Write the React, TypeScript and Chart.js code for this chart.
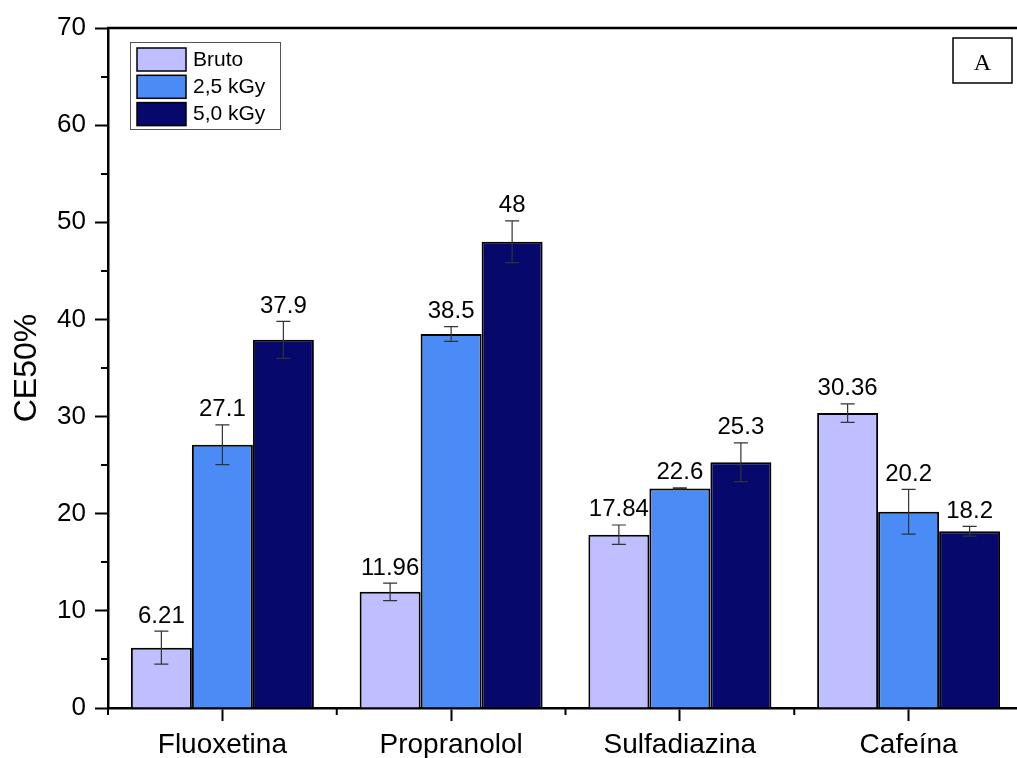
import { useEffect, useRef } from 'react';
import { Chart, registerables } from 'chart.js';

Chart.register(...registerables);

const categories = ['Fluoxetina', 'Propranolol', 'Sulfadiazina', 'Cafeína'];
const seriesNames = ['Bruto', '2,5 kGy', '5,0 kGy'];
const brutoValues = [6.21, 11.96, 17.84, 30.36];
const kGy25Values = [27.1, 38.5, 22.6, 20.2];
const kGy50Values = [37.9, 48, 25.3, 18.2];
const brutoErrors = [1.7, 0.9, 1.0, 0.95];
const kGy25Errors = [2.05, 0.75, 0.05, 2.3];
const kGy50Errors = [1.9, 2.15, 2.0, 0.5];
const yTicks = [0, 10, 20, 30, 40, 50, 60, 70];
const yMinorTicks = [5, 15, 25, 35, 45, 55, 65];
const panelLabel = 'A';

const seriesColors = ['#BFBFFF', '#4A8BF5', '#06086B'];

const FONT = 'Arial, "Liberation Sans", sans-serif';

const overlayPlugin = {
  id: 'overlay',
  afterDatasetsDraw(chart: any) {
    const { ctx, scales } = chart;
    const y = scales.y;
    const errs = [brutoErrors, kGy25Errors, kGy50Errors];
    ctx.save();
    chart.data.datasets.forEach((ds: any, di: number) => {
      const meta = chart.getDatasetMeta(di);
      meta.data.forEach((bar: any, i: number) => {
        const v = ds.data[i];
        const e = errs[di][i];
        const cx = bar.x;
        const yt = y.getPixelForValue(v + e);
        const yb = y.getPixelForValue(v - e);
        ctx.strokeStyle = '#333';
        ctx.lineWidth = 1.2;
        ctx.beginPath();
        ctx.moveTo(cx, yt);
        ctx.lineTo(cx, yb);
        ctx.moveTo(cx - 7, yt);
        ctx.lineTo(cx + 7, yt);
        ctx.moveTo(cx - 7, yb);
        ctx.lineTo(cx + 7, yb);
        ctx.stroke();
        ctx.fillStyle = '#000';
        ctx.font = '24px ' + FONT;
        ctx.textAlign = 'center';
        ctx.textBaseline = 'alphabetic';
        ctx.fillText(String(v), cx, yt - 8.5);
      });
    });
    ctx.restore();
  },
  afterDraw(chart: any) {
    const { ctx, chartArea, scales } = chart;
    const x = scales.x;
    const y = scales.y;
    ctx.save();
    ctx.strokeStyle = '#000';
    ctx.lineWidth = 2.5;
    ctx.beginPath();
    ctx.moveTo(chartArea.left - 1, chartArea.top);
    ctx.lineTo(chart.width, chartArea.top);
    ctx.stroke();
    ctx.lineWidth = 2;
    ctx.beginPath();
    yMinorTicks.forEach((t) => {
      const py = Math.round(y.getPixelForValue(t));
      ctx.moveTo(chartArea.left, py);
      ctx.lineTo(chartArea.left - 7, py);
    });
    for (let i = 0; i <= categories.length; i++) {
      const px = i === 0
        ? chartArea.left
        : i === categories.length
          ? chartArea.right
          : (x.getPixelForValue(i - 1) + x.getPixelForValue(i)) / 2;
      ctx.moveTo(px, chartArea.bottom);
      ctx.lineTo(px, chartArea.bottom + 7);
    }
    ctx.stroke();

    // legend
    const lx = 130, ly = 42, lw = 150, lh = 87;
    ctx.fillStyle = '#fff';
    ctx.fillRect(lx, ly, lw, lh);
    ctx.strokeStyle = '#555';
    ctx.lineWidth = 1;
    ctx.strokeRect(lx + 0.5, ly + 0.5, lw, lh);
    chart.data.datasets.forEach((ds: any, i: number) => {
      const sy = 48 + i * 27.3;
      ctx.fillStyle = ds.backgroundColor;
      ctx.fillRect(137, sy, 49, 23);
      ctx.strokeStyle = '#000';
      ctx.lineWidth = 1.5;
      ctx.strokeRect(137, sy, 49, 23);
      ctx.fillStyle = '#000';
      ctx.font = '21px ' + FONT;
      ctx.textAlign = 'left';
      ctx.textBaseline = 'middle';
      ctx.fillText(ds.label, 193, sy + 12);
    });

    // panel label box
    ctx.fillStyle = '#fff';
    ctx.fillRect(953, 38, 59, 45);
    ctx.strokeStyle = '#000';
    ctx.lineWidth = 1.5;
    ctx.strokeRect(953, 38, 59, 45);
    ctx.fillStyle = '#000';
    ctx.font = '24px "Liberation Serif", "Times New Roman", serif';
    ctx.textAlign = 'center';
    ctx.textBaseline = 'alphabetic';
    ctx.fillText(panelLabel, 982.5, 70);
    ctx.restore();
  },
};

export default function App() {
  const canvasRef = useRef<HTMLCanvasElement | null>(null);

  useEffect(() => {
    document.body.style.margin = '0';
    const canvas = canvasRef.current;
    if (!canvas) return;
    const chart = new Chart(canvas, {
      type: 'bar',
      data: {
        labels: categories,
        datasets: [
          { label: seriesNames[0], data: brutoValues, backgroundColor: seriesColors[0] },
          { label: seriesNames[1], data: kGy25Values, backgroundColor: seriesColors[1] },
          { label: seriesNames[2], data: kGy50Values, backgroundColor: seriesColors[2] },
        ].map((d) => ({
          ...d,
          borderColor: '#000',
          borderWidth: 2,
          borderSkipped: 'bottom',
          categoryPercentage: 0.8,
          barPercentage: 1.0,
        })),
      },
      options: {
        responsive: false,
        animation: false,
        devicePixelRatio: 1,
        layout: { padding: { top: 28, left: 0, right: 0, bottom: 0 } },
        plugins: {
          legend: { display: false },
          tooltip: { enabled: false },
          title: { display: false },
        },
        scales: {
          x: {
            type: 'category',
            border: { display: true, color: '#000', width: 2.5 },
            grid: {
              display: true,
              drawOnChartArea: false,
              drawTicks: true,
              offset: false,
              tickLength: 13,
              tickWidth: 2,
              tickColor: '#000',
            },
            ticks: {
              color: '#000',
              padding: 7,
              font: { family: FONT, size: 28 },
              maxRotation: 0,
            },
            afterFit: (scale: any) => {
              scale.height = 50;
            },
          },
          y: {
            min: 0,
            max: 70,
            afterBuildTicks: (scale: any) => {
              scale.ticks = yTicks.map((v) => ({ value: v }));
            },
            border: { display: true, color: '#000', width: 2.5 },
            grid: {
              display: true,
              drawOnChartArea: false,
              drawTicks: true,
              tickLength: 13,
              tickWidth: 2,
              tickColor: '#000',
            },
            ticks: {
              color: '#000',
              padding: 9,
              font: { family: FONT, size: 26 },
            },
            title: {
              display: true,
              text: 'CE50%',
              color: '#000',
              font: { family: FONT, size: 32 },
              padding: { top: 8, bottom: 0 },
            },
            afterFit: (scale: any) => {
              scale.width = 108;
            },
          },
        },
      },
      plugins: [overlayPlugin],
    });
    return () => chart.destroy();
  }, []);

  return (
    <div style={{ position: 'absolute', left: 0, top: 0, width: 1017, height: 758, overflow: 'hidden', background: '#fff' }}>
      <canvas ref={canvasRef} width={1023} height={758} style={{ width: 1023, height: 758, display: 'block' }} />
    </div>
  );
}
